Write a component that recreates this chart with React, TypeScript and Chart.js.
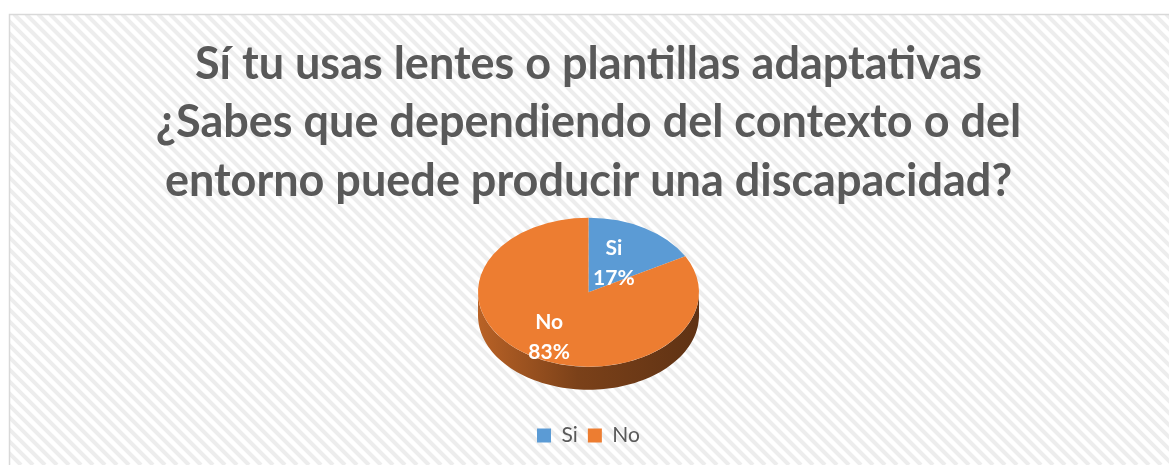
import React, { useEffect, useRef } from "react";
import { Chart, registerables } from "chart.js";

Chart.register(...registerables);

const TITLE_LINES = [
  "Sí tu usas lentes o plantillas adaptativas",
  "¿Sabes que dependiendo del contexto o del",
  "entorno puede producir una discapacidad?",
];
const CATEGORIES = ["Si", "No"];
const VALUES = [17, 83];
const COLORS = ["#5B9BD5", "#ED7D31"];
const LABEL_POS = [0.45, 0.7];

const FONT = "Lato, 'Open Sans', sans-serif";
const TEXT_COLOR = "#595959";
const TILT = 0.674;
const DEPTH = 23;

function shade(hex: string, f: number): string {
  const n = parseInt(hex.slice(1), 16);
  const r = Math.round(((n >> 16) & 255) * f);
  const g = Math.round(((n >> 8) & 255) * f);
  const b = Math.round((n & 255) * f);
  return `rgb(${r},${g},${b})`;
}

const backgroundPlugin = {
  id: "stripedBg",
  beforeDraw(chart: any) {
    const { ctx, width, height } = chart;
    const x0 = 9;
    const y0 = 14;
    ctx.save();
    ctx.fillStyle = "#ffffff";
    ctx.fillRect(0, 0, width, height);
    ctx.beginPath();
    ctx.rect(x0, y0, width - x0, height - y0);
    ctx.clip();
    ctx.strokeStyle = "#ededed";
    ctx.lineWidth = 4;
    const h = height - y0;
    for (let x = x0 - h; x < width + 20; x += 12) {
      ctx.beginPath();
      ctx.moveTo(x, y0);
      ctx.lineTo(x + h, y0 + h);
      ctx.stroke();
    }
    ctx.restore();
    ctx.save();
    ctx.strokeStyle = "#d9d9d9";
    ctx.lineWidth = 1.5;
    ctx.beginPath();
    ctx.moveTo(x0 + 0.5, height);
    ctx.lineTo(x0 + 0.5, y0 + 0.5);
    ctx.lineTo(width, y0 + 0.5);
    ctx.stroke();
    ctx.restore();
  },
};

const pie3dPlugin = {
  id: "pie3d",
  beforeDatasetsDraw(chart: any) {
    const { ctx } = chart;
    const meta = chart.getDatasetMeta(0);
    const arcs = meta.data;
    if (!arcs.length) return;
    const { x: cx, y: cy, outerRadius: r } = arcs[0].getProps(["x", "y", "outerRadius"], true);
    arcs.forEach((arc: any, i: number) => {
      const { startAngle, endAngle } = arc.getProps(["startAngle", "endAngle"], true);
      for (const base of [0, 2 * Math.PI, -2 * Math.PI]) {
        const a0 = Math.max(startAngle, base);
        const a1 = Math.min(endAngle, base + Math.PI);
        if (a1 <= a0) continue;
        const steps = 80;
        ctx.save();
        const grad = ctx.createLinearGradient(cx - r, 0, cx + r, 0);
        const col = COLORS[i % COLORS.length];
        grad.addColorStop(0, shade(col, 0.78));
        grad.addColorStop(0.45, shade(col, 0.52));
        grad.addColorStop(1, shade(col, 0.4));
        ctx.fillStyle = grad;
        ctx.beginPath();
        for (let s = 0; s <= steps; s++) {
          const t = a0 + ((a1 - a0) * s) / steps;
          const px = cx + r * Math.cos(t);
          const py = cy + r * TILT * Math.sin(t);
          if (s === 0) ctx.moveTo(px, py);
          else ctx.lineTo(px, py);
        }
        for (let s = steps; s >= 0; s--) {
          const t = a0 + ((a1 - a0) * s) / steps;
          ctx.lineTo(cx + r * Math.cos(t), cy + r * TILT * Math.sin(t) + DEPTH);
        }
        ctx.closePath();
        ctx.fill();
        ctx.restore();
      }
    });
    ctx.save();
    ctx.translate(cx, cy);
    ctx.scale(1, TILT);
    ctx.translate(-cx, -cy);
  },
  afterDatasetsDraw(chart: any) {
    const { ctx } = chart;
    const meta = chart.getDatasetMeta(0);
    const arcs = meta.data;
    if (!arcs.length) return;
    ctx.restore();
    const total = VALUES.reduce((a, b) => a + b, 0);
    ctx.save();
    ctx.fillStyle = "#ffffff";
    ctx.font = `bold 21px ${FONT}`;
    ctx.textAlign = "center";
    ctx.textBaseline = "middle";
    arcs.forEach((arc: any, i: number) => {
      const { x, y, startAngle, endAngle, outerRadius } = arc.getProps(
        ["x", "y", "startAngle", "endAngle", "outerRadius"],
        true
      );
      const mid = (startAngle + endAngle) / 2;
      const rr = outerRadius * LABEL_POS[i];
      const lx = x + Math.cos(mid) * rr;
      const ly = y + Math.sin(mid) * rr * TILT;
      const pct = Math.round((VALUES[i] / total) * 100);
      ctx.fillText(CATEGORIES[i], lx, ly - 15);
      ctx.fillText(`${pct}%`, lx, ly + 15);
    });
    ctx.restore();
  },
};

export default function App() {
  const ref = useRef<HTMLCanvasElement | null>(null);

  useEffect(() => {
    if (!ref.current) return;
    const chart = new Chart(ref.current, {
      type: "pie",
      data: {
        labels: CATEGORIES,
        datasets: [
          {
            data: VALUES,
            backgroundColor: COLORS,
            borderWidth: 0,
            clip: false as any,
          },
        ],
      },
      options: {
        animation: false,
        responsive: false,
        maintainAspectRatio: false,
        radius: 110.5,
        layout: { padding: { left: 8, right: 0, top: 0, bottom: 9 } },
        plugins: {
          title: {
            display: true,
            text: TITLE_LINES,
            color: TEXT_COLOR,
            font: { family: FONT, size: 45, weight: "bold", lineHeight: 1.3 },
            padding: { top: 35, bottom: -41 },
          },
          legend: {
            display: true,
            position: "bottom",
            labels: {
              color: TEXT_COLOR,
              font: { family: FONT, size: 21 },
              boxWidth: 14,
              boxHeight: 14,
              padding: 10,
            },
          },
          tooltip: { enabled: false },
        },
      } as any,
      plugins: [backgroundPlugin, pie3dPlugin],
    });
    return () => chart.destroy();
  }, []);

  return (
    <div style={{ position: "fixed", left: 0, top: 0, width: 1169, height: 465, overflow: "hidden" }}>
      <canvas ref={ref} width={1169} height={465} style={{ width: 1169, height: 465, display: "block" }} />
    </div>
  );
}
